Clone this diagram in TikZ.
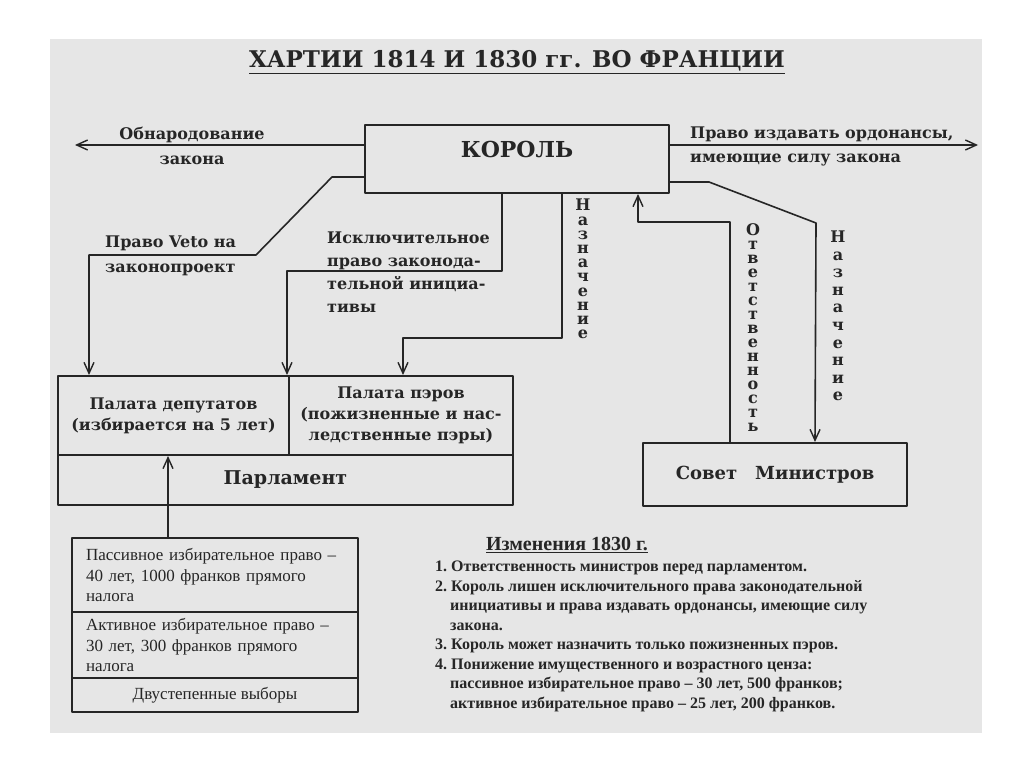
\documentclass[tikz,border=0pt]{standalone}
\usepackage{fontspec}
\setmainfont{DejaVu Serif}
\newfontfamily\listfont{Liberation Serif}
\usetikzlibrary{arrows.meta,calc,positioning}
\definecolor{inkc}{HTML}{262626}
\definecolor{paperc}{HTML}{E6E6E6}
\tikzset{
  every picture/.append style={line cap=round,line join=round},
  ch box/.style={draw=inkc,line width=2pt,inner sep=0pt,align=center,text=inkc},
  ch label/.style={font=\bfseries\fontsize{16}{24}\selectfont,text=inkc,align=left,inner sep=0pt},
  ch vlabel/.style={text=inkc,align=center,inner sep=0pt},
  ch link/.style={draw=inkc,line width=1.6pt},
  ch arrow/.style={ch link,-{Straight Barb[length=11pt,width=10pt,line width=1.4pt]}}
}

\begin{document}
\begin{tikzpicture}[x=1pt,y=-1pt]
\useasboundingbox (0,0) rectangle (1024,767);
\fill[paperc] (50,39) rectangle (982,733);

\node[font=\bfseries\fontsize{23}{26}\selectfont,text=inkc] (title) at (517,62) {\underline{ХАРТИИ 1814 И 1830 гг. ВО ФРАНЦИИ}};

% boxes
\node[ch box,minimum width=304pt,minimum height=68pt,text depth=19pt,font=\bfseries\fontsize{22}{24}\selectfont] (king) at (517,159) {КОРОЛЬ};
\node[ch box,minimum width=231pt,minimum height=79pt,font=\bfseries\fontsize{16}{21}\selectfont] (deputies) at (173.5,415.5) {Палата депутатов\\(избирается на 5 лет)};
\node[ch box,minimum width=224pt,minimum height=79pt,font=\bfseries\fontsize{16}{21}\selectfont] (peers) at (401,415.5) {Палата пэров\\(пожизненные и нас-\\ледственные пэры)};
\node[ch box,minimum width=455pt,minimum height=50pt,font=\bfseries\fontsize{19}{20}\selectfont] (parl) at (285.5,480) {Парламент};
\node[ch box,minimum width=264pt,minimum height=63pt,font=\bfseries\fontsize{18}{20}\selectfont] (council) at (775,474.5) {Совет\quad Министров};

\node[ch box,minimum width=286pt,minimum height=74pt,text width=258pt,align=left,font=\listfont\fontsize{17}{20.5}\selectfont] (passive) at (215,575) {Пассивное избирательное право –\\40 лет, 1000 франков прямого\\налога};
\node[ch box,minimum width=286pt,minimum height=66pt,text width=258pt,align=left,font=\listfont\fontsize{17}{20.5}\selectfont] (active) at (215,645) {Активное избирательное право –\\30 лет, 300 франков прямого\\налога};
\node[ch box,minimum width=286pt,minimum height=34pt,font=\listfont\fontsize{17}{20}\selectfont] (twostage) at (215,695) {Двустепенные выборы};

% free ends of the long arrows
\coordinate (promL) at (75,145);
\coordinate (ordR) at (978,145);

% connectors
\draw[ch arrow] ([yshift=14pt]king.west) -- (promL);
\draw[ch arrow] ([yshift=14pt]king.east) -- (ordR);
\draw[ch arrow] ([yshift=-18pt]king.west) -- ++(-32,0) -- ++(-76,78) -| ([xshift=-84.5pt]deputies.north);
\draw[ch arrow] ([xshift=-15pt]king.south) -- ++(0,77) -| ([xshift=-114pt]peers.north);
\draw[ch arrow] ([xshift=45pt]king.south) -- ++(0,144) -| ([xshift=2pt]peers.north);
\draw[ch arrow] ([xshift=-45pt]council.north) -- ++(0,-220) -| ([xshift=121pt]king.south);
\draw[ch arrow] ([yshift=-23pt]king.east) -- ++(39,0) -- ++(107,41) -- ([xshift=40pt]council.north);
\draw[ch arrow] ([xshift=-47pt]passive.north) -- ([xshift=-47pt]passive.north |- deputies.south);

% labels
\node[ch label,align=center,font=\bfseries\fontsize{16}{25}\selectfont] (promlab) at (192,146) {Обнародование\\закона};
\node[ch label,anchor=west] (ordlab) at (690,146) {Право издавать ордонансы,\\имеющие силу закона};
\node[ch label,anchor=west,font=\bfseries\fontsize{16}{25}\selectfont] (vetolab) at (105,256) {Право Veto на\\законопроект};
\node[ch label,anchor=west,font=\bfseries\fontsize{16}{23}\selectfont] (initlab) at (327,272) {Исключительное\\право законода-\\тельной инициа-\\тивы};
\node[ch vlabel,font=\bfseries\fontsize{16}{14.2}\selectfont] (naznA) at (583,269) {Н\\а\\з\\н\\а\\ч\\е\\н\\и\\е};
\node[ch vlabel,font=\bfseries\fontsize{16}{14}\selectfont] (otvlab) at (753,328) {О\\т\\в\\е\\т\\с\\т\\в\\е\\н\\н\\о\\с\\т\\ь};
\node[ch vlabel,font=\bfseries\fontsize{16}{17.6}\selectfont] (naznB) at (838,316) {Н\\а\\з\\н\\а\\ч\\е\\н\\и\\е};

% changes of 1830
\node[font=\listfont\bfseries\fontsize{20}{22}\selectfont,text=inkc] (changes) at (567,545) {\underline{Изменения 1830 г.}};
\node[anchor=north west,align=left,inner sep=0pt,text=inkc,font=\listfont\bfseries\fontsize{16}{19.5}\selectfont] (changelist) at (435,561) {1.~Ответственность министров перед парламентом.\\
2.~Король лишен исключительного права законодательной\\
\hspace*{15pt}инициативы и права издавать ордонансы, имеющие силу\\
\hspace*{15pt}закона.\\
3.~Король может назначить только пожизненных пэров.\\
4.~Понижение имущественного и возрастного ценза:\\
\hspace*{15pt}пассивное избирательное право – 30 лет, 500 франков;\\
\hspace*{15pt}активное избирательное право – 25 лет, 200 франков.};
\end{tikzpicture}
\end{document}
